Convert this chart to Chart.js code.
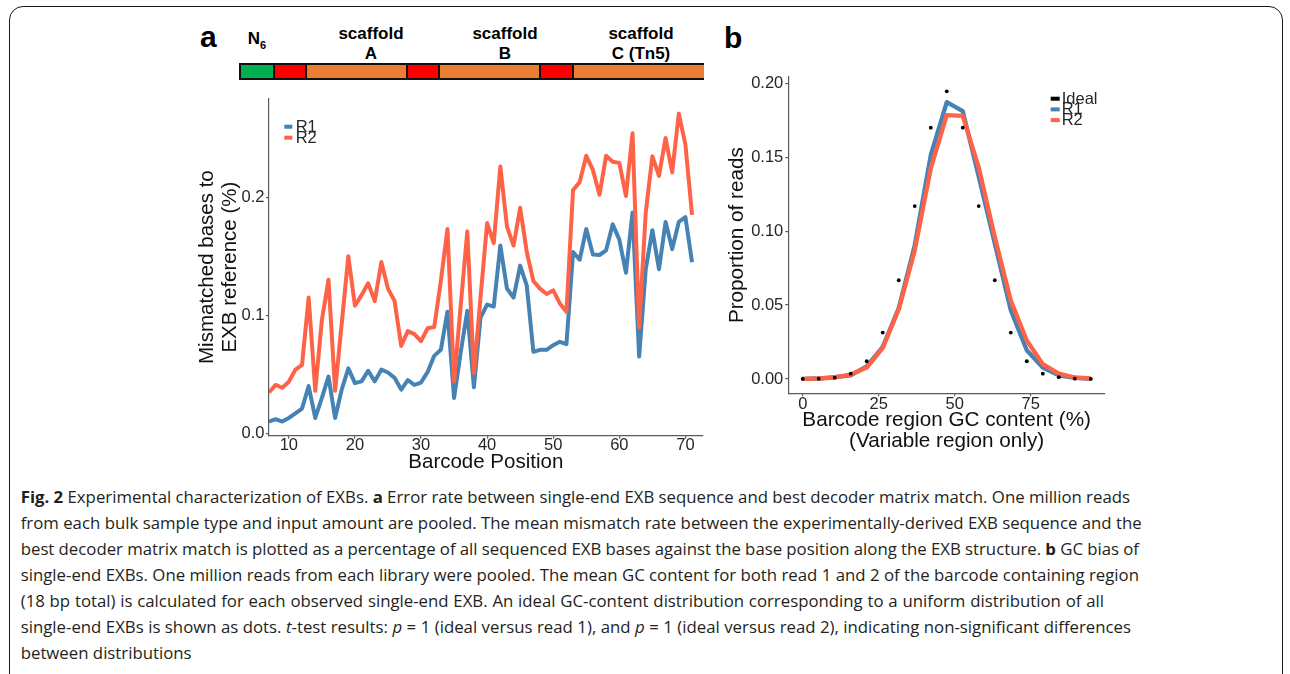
<!DOCTYPE html>
<html>
<head>
<meta charset="utf-8">
<script src="https://cdn.jsdelivr.net/npm/chart.js@4.4.1/dist/chart.umd.min.js"></script>
<style>
html,body{margin:0;padding:0;background:#fff;}
body{width:1290px;height:674px;position:relative;overflow:hidden;font-family:"Liberation Sans",Arial,sans-serif;color:#111;}
#frame{position:absolute;left:9px;top:6px;width:1274px;height:720px;border:1.6px solid #1a1a1a;border-radius:14px;box-sizing:border-box;}
canvas{position:absolute;}
#cA{left:150px;top:90px;}
#cB{left:720px;top:60px;}
.plab{position:absolute;font-weight:bold;font-size:30px;line-height:30px;color:#000;}
.slab{position:absolute;font-weight:bold;font-size:17px;line-height:17px;color:#000;text-align:center;white-space:nowrap;transform:translateX(-50%);}
#bar{position:absolute;left:239px;top:63px;width:465px;height:17px;border:2px solid #111;box-sizing:border-box;}
.seg{position:absolute;top:0;bottom:0;}
.cl{position:absolute;left:20.7px;white-space:nowrap;font-family:"Open Sans","Noto Sans",sans-serif;font-size:17px;line-height:26px;color:#231f20;}
.cl b{font-weight:700;}
</style>
</head>
<body>
<div id="frame"></div>

<div class="plab" style="left:200px;top:22px;">a</div>
<div class="plab" style="left:724px;top:23px;">b</div>

<div class="slab" style="left:257px;top:30px;">N<span style="font-size:11px;position:relative;top:5px;">6</span></div>
<div class="slab" style="left:371px;top:25px;">scaffold</div>
<div class="slab" style="left:371px;top:45px;">A</div>
<div class="slab" style="left:505px;top:25px;">scaffold</div>
<div class="slab" style="left:505px;top:45px;">B</div>
<div class="slab" style="left:641px;top:25px;">scaffold</div>
<div class="slab" style="left:641px;top:45px;">C (Tn5)</div>

<div id="bar">
  <div class="seg" style="left:0;width:32px;background:#00b050;"></div>
  <div class="seg" style="left:32px;width:32px;background:#ff0000;border-left:2px solid #111;"></div>
  <div class="seg" style="left:64px;width:99px;background:#ed7d31;border-left:2px solid #111;"></div>
  <div class="seg" style="left:165px;width:31px;background:#ff0000;border-left:2px solid #111;"></div>
  <div class="seg" style="left:197px;width:99px;background:#ed7d31;border-left:2px solid #111;"></div>
  <div class="seg" style="left:298px;width:31px;background:#ff0000;border-left:2px solid #111;"></div>
  <div class="seg" style="left:331px;width:130px;background:#ed7d31;border-left:2px solid #111;"></div>
</div>

<canvas id="cA" width="570" height="390"></canvas>
<canvas id="cB" width="400" height="400"></canvas>

<div class="cl" style="top:484px;"><b>Fig. 2</b> Experimental characterization of EXBs. <b>a</b> Error rate between single-end EXB sequence and best decoder matrix match. One million reads</div>
<div class="cl" style="top:510px;">from each bulk sample type and input amount are pooled. The mean mismatch rate between the experimentally-derived EXB sequence and the</div>
<div class="cl" style="top:536px;">best decoder matrix match is plotted as a percentage of all sequenced EXB bases against the base position along the EXB structure. <b>b</b> GC bias of</div>
<div class="cl" style="top:562px;">single-end EXBs. One million reads from each library were pooled. The mean GC content for both read 1 and 2 of the barcode containing region</div>
<div class="cl" style="top:588px;">(18 bp total) is calculated for each observed single-end EXB. An ideal GC-content distribution corresponding to a uniform distribution of all</div>
<div class="cl" style="top:614px;">single-end EXBs is shown as dots. <i>t</i>-test results: <i>p</i> = 1 (ideal versus read 1), and <i>p</i> = 1 (ideal versus read 2), indicating non-significant differences</div>
<div class="cl" style="top:640px;">between distributions</div>

<script>
// ---------- Panel a data ----------
const barcodePositions = [7,8,9,10,11,12,13,14,15,16,17,18,19,20,21,22,23,24,25,26,27,28,29,30,31,32,33,34,35,36,37,38,39,40,41,42,43,44,45,46,47,48,49,50,51,52,53,54,55,56,57,58,59,60,61,62,63,64,65,66,67,68,69,70,71];
const mismatchR1 = [0.010,0.012,0.010,0.013,0.017,0.021,0.040,0.013,0.030,0.048,0.013,0.037,0.055,0.0425,0.044,0.053,0.044,0.054,0.0515,0.047,0.037,0.045,0.041,0.043,0.052,0.0656,0.0707,0.103,0.030,0.0685,0.1037,0.039,0.098,0.109,0.1073,0.159,0.1225,0.115,0.142,0.125,0.069,0.0707,0.0707,0.0746,0.0775,0.0755,0.1535,0.147,0.173,0.1515,0.151,0.155,0.177,0.164,0.136,0.187,0.065,0.139,0.172,0.139,0.179,0.156,0.179,0.183,0.145];
const mismatchR2 = [0.0346,0.041,0.0386,0.0437,0.054,0.058,0.115,0.036,0.096,0.130,0.036,0.093,0.150,0.108,0.117,0.127,0.112,0.145,0.1225,0.112,0.074,0.0865,0.084,0.078,0.089,0.090,0.129,0.173,0.0437,0.108,0.171,0.051,0.115,0.178,0.161,0.226,0.175,0.159,0.191,0.1535,0.129,0.1225,0.118,0.121,0.110,0.103,0.206,0.2127,0.235,0.223,0.202,0.235,0.230,0.229,0.201,0.254,0.0896,0.187,0.2346,0.218,0.250,0.221,0.2707,0.2445,0.185];
const xTicksA = [10,20,30,40,50,60,70];
const xTickLabelsA = ['10','20','30','40','50','60','70'];
const yTicksA = [0,0.1,0.2];
const yTickLabelsA = ['0.0','0.1','0.2'];

// ---------- Panel b data ----------
const gcContent = [0,5.26,10.53,15.79,21.05,26.32,31.58,36.84,42.11,47.37,52.63,57.89,63.16,68.42,73.68,78.95,84.21,89.47,94.74];
const idealProp = [0,0.0002,0.0009,0.0036,0.012,0.0314,0.0668,0.117,0.170,0.1946,0.170,0.117,0.0668,0.0314,0.012,0.0036,0.0012,0.0002,0];
const r1Prop = [0,0.0003,0.0012,0.0025,0.0086,0.0217,0.048,0.0905,0.1514,0.1873,0.1812,0.1368,0.0916,0.0465,0.0194,0.0077,0.0025,0.0007,0.0001];
const r2Prop = [0,0.0003,0.001,0.003,0.0077,0.021,0.047,0.087,0.1424,0.1785,0.178,0.143,0.096,0.053,0.026,0.010,0.0036,0.001,0.0003];
const xTicksB = [0,25,50,75];
const xTickLabelsB = ['0','25','50','75'];
const yTicksB = [0,0.05,0.10,0.15,0.20];
const yTickLabelsB = ['0.00','0.05','0.10','0.15','0.20'];

const FF = '"Liberation Sans", Arial, sans-serif';
const BLUE = '#4682B4', RED = '#FF6347';
const AXIS = '#5a5a5a', TXT = '#262626';

const miniLegend = {
  id: 'miniLegend',
  afterDraw(chart, args, o) {
    const ctx = chart.ctx;
    ctx.save();
    ctx.font = o.size + 'px ' + FF;
    ctx.textBaseline = 'middle';
    ctx.textAlign = 'left';
    chart.data.datasets.forEach((ds, i) => {
      const y = o.y + i * o.dy;
      ctx.fillStyle = ds.legendColor || ds.borderColor;
      ctx.fillRect(o.x, y - 2, o.w, 4);
      ctx.fillStyle = TXT;
      ctx.fillText(ds.label, o.x + o.w + o.gap, y + 0.5);
    });
    ctx.restore();
  }
};

function setTicks(vals){ return s => { s.ticks = vals.map(v => ({value: v})); }; }

function axisCommon(tickVals, tickLabels, fitFn, titleOpts) {
  return {
    type: 'linear',
    afterBuildTicks: setTicks(tickVals),
    afterFit: fitFn,
    ticks: {
      callback: (v, i) => tickLabels[i],
      font: {family: FF, size: 16.5, lineHeight: 0.85},
      color: TXT, padding: 0, maxRotation: 0, autoSkip: false
    },
    grid: {display: true, drawOnChartArea: false, drawTicks: true, tickLength: 3, color: AXIS, lineWidth: 1.2},
    border: {display: true, color: AXIS, width: 1.2},
    title: titleOpts
  };
}

// ---------- Chart A ----------
const xA = axisCommon(xTicksA, xTickLabelsA, s => { s.height = 44.3; },
  {display: true, text: 'Barcode Position', color: '#111', font: {family: FF, size: 20.5, lineHeight: 1.2}, padding: {top: 0, bottom: 5.2}});
xA.min = 7; xA.max = 72.6;
const yA = axisCommon(yTicksA, yTickLabelsA, s => { s.width = 119; },
  {display: true, text: ['Mismatched bases to', 'EXB reference (%)'], color: '#111', font: {family: FF, size: 20.5, lineHeight: 1.093}, padding: {top: 46.4, bottom: 0}});
yA.min = -0.002; yA.max = 0.2835;
yA.ticks.padding = 1.5;

new Chart(document.getElementById('cA'), {
  type: 'line',
  data: {
    datasets: [
      {label: 'R1', data: barcodePositions.map((p, i) => ({x: p, y: mismatchR1[i]})), borderColor: BLUE, borderWidth: 4, pointRadius: 0, tension: 0, borderJoinStyle: 'round', order: 2},
      {label: 'R2', data: barcodePositions.map((p, i) => ({x: p, y: mismatchR2[i]})), borderColor: RED, borderWidth: 4, pointRadius: 0, tension: 0, borderJoinStyle: 'round', order: 1}
    ]
  },
  options: {
    responsive: false, animation: false, devicePixelRatio: 1,
    layout: {padding: {left: 0, top: 7, right: 17.4, bottom: 0}},
    plugins: {legend: {display: false}, tooltip: {enabled: false},
      miniLegend: {x: 134.3, y: 36.7, dy: 11, w: 8, gap: 3.4, size: 16.5}},
    scales: {x: xA, y: yA}
  },
  plugins: [miniLegend]
});

// ---------- Chart B ----------
const xB = axisCommon(xTicksB, xTickLabelsB, s => { s.height = 66.7; },
  {display: true, text: ['Barcode region GC content (%)', '(Variable region only)'], color: '#111', font: {family: FF, size: 20.7, lineHeight: 1.015}, padding: {top: 0, bottom: 7.8}});
xB.min = -4.74; xB.max = 99.4;
xB.ticks.padding = 1.5;
const yB = axisCommon(yTicksB, yTickLabelsB, s => { s.width = 68.3; },
  {display: true, text: 'Proportion of reads', color: '#111', font: {family: FF, size: 20.7, lineHeight: 1.2}, padding: {top: 5.2, bottom: 0}});
yB.min = -0.0097; yB.max = 0.2043;
yB.ticks.padding = 2;

new Chart(document.getElementById('cB'), {
  type: 'line',
  data: {
    datasets: [
      {label: 'Ideal', data: gcContent.map((g, i) => ({x: g, y: idealProp[i]})), showLine: false, pointRadius: 1.9, pointBackgroundColor: '#000', pointBorderWidth: 0, borderColor: '#000', legendColor: '#000', order: 0},
      {label: 'R1', data: gcContent.map((g, i) => ({x: g, y: r1Prop[i]})), borderColor: BLUE, borderWidth: 4.3, pointRadius: 0, tension: 0, borderJoinStyle: 'round', order: 2},
      {label: 'R2', data: gcContent.map((g, i) => ({x: g, y: r2Prop[i]})), borderColor: RED, borderWidth: 4.3, pointRadius: 0, tension: 0, borderJoinStyle: 'round', order: 1}
    ]
  },
  options: {
    responsive: false, animation: false, devicePixelRatio: 1,
    layout: {padding: {left: 0, top: 17, right: 15, bottom: 0}},
    plugins: {legend: {display: false}, tooltip: {enabled: false},
      miniLegend: {x: 330.7, y: 38.7, dy: 10.7, w: 9, gap: 2, size: 16.5}},
    scales: {x: xB, y: yB}
  },
  plugins: [miniLegend]
});

// ---------- caption fitting ----------
const capRight = [1130, 1141.7, 1139, 1139, 1104, 1131];
function fitCaption() {
  const lines = document.querySelectorAll('.cl');
  let nat = 0, tgt = 0;
  lines.forEach((el, i) => { el.style.wordSpacing = '0px'; el.style.fontSize = '17px'; });
  capRight.forEach((r, i) => { nat += lines[i].getBoundingClientRect().width; tgt += r - 20.7; });
  const fs = 17 * tgt / nat;
  lines.forEach(el => { el.style.fontSize = fs.toFixed(2) + 'px'; });
  capRight.forEach((r, i) => {
    const el = lines[i];
    const w = el.getBoundingClientRect().width;
    const n = (el.textContent.match(/ /g) || []).length;
    el.style.wordSpacing = ((r - 20.7 - w) / n).toFixed(3) + 'px';
  });
}
fitCaption();
if (document.fonts && document.fonts.ready) document.fonts.ready.then(fitCaption);
</script>
</body>
</html>
